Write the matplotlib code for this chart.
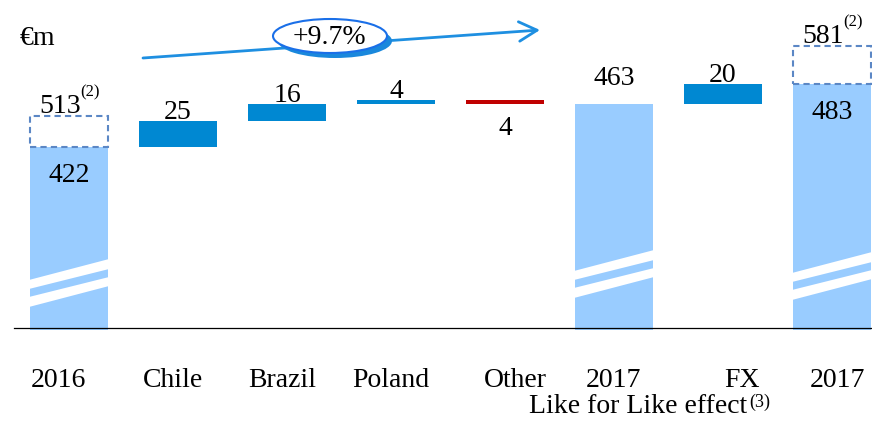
import matplotlib
matplotlib.use("Agg")
import matplotlib.pyplot as plt
from matplotlib.patches import Rectangle, Polygon, Ellipse

# data
labels = ["2016", "Chile", "Brazil", "Poland", "Other", "2017", "FX", "2017"]
kinds = ["total", "step", "step", "step", "step", "total", "step", "total"]
values = [422, 25, 16, 4, -4, 463, 20, 483]
reported_idx = [0, 7]
reported_vals = [513, 581]
growth = "+9.7%"
lfl_caption = "Like for Like effect"
unit = "€m"

# layout (image pixels)
W, H = 872, 424
X0, STEP = 69, 109          # first bar centre, distance between bars
BASE_PX, PPU = 328, 1.035   # axis line, pixels per €m
BASE_VAL = 247              # value sitting on the broken axis
BAR_W = 78 / STEP
label_dx = [-11, -5, -5, -5, 10, -1, 19, 5]
box_px = [31, 38]
break_lift = {0: 0, 5: 9, 7: 7}

LIGHT = "#99ccff"
DARK = "#0088d2"
RED = "#c00000"
DASH = "#5b87c5"
ARROW = "#1e8fe1"
FONT = "Liberation Serif"
FS = 20

plt.rcParams["font.family"] = [FONT, "DejaVu Serif"]


def vy(py):
    return BASE_VAL + (BASE_PX - py) / PPU


def fxy(px, py):
    return px / W, 1 - py / H


fig = plt.figure(figsize=(W / 100, H / 100), dpi=100)
ax = fig.add_axes([0, 0, 1, 1])
ax.set_xlim(-X0 / STEP, (W - X0) / STEP)
ax.set_ylim(vy(H), vy(0))
ax.axis("off")

# waterfall geometry
bottoms, tops, colors = [], [], []
run = 0
for k, v in zip(kinds, values):
    if k == "total":
        run = v
        bottoms.append(vy(BASE_PX + 2))
        tops.append(v)
        colors.append(LIGHT)
    else:
        lo, hi = sorted([run, run + v])
        bottoms.append(lo)
        tops.append(hi)
        colors.append(DARK if v > 0 else RED)
        run += v

xs = list(range(len(labels)))
ax.bar(xs, [t - b for t, b in zip(tops, bottoms)], bottom=bottoms, width=BAR_W,
       color=colors, linewidth=0, zorder=2)

# axis line
ax.plot([-55 / STEP, (W - X0) / STEP], [BASE_VAL, BASE_VAL], color="black", lw=0.9, zorder=3)

# break marks on the total bars
stripes = [((280, 289), (259, 269)), ((297, 307), (277, 286))]
for i, lift in break_lift.items():
    l, r = i - BAR_W / 2 - 0.01, i + BAR_W / 2 + 0.01
    for (lt, lb), (rt, rb) in stripes:
        poly = Polygon([(l, vy(lt - lift)), (r, vy(rt - lift)), (r, vy(rb - lift)), (l, vy(lb - lift))],
                       closed=True, facecolor="white", edgecolor="none", zorder=4)
        ax.add_patch(poly)

# value labels
for i, (k, v) in enumerate(zip(kinds, values)):
    if k == "total":
        if i in reported_idx:
            y = tops[i] - 35 / PPU
        else:
            y = tops[i] + 19 / PPU
    elif v > 0:
        y = tops[i] + 2 / PPU
    else:
        y = bottoms[i] - 31 / PPU
    ax.text(i, y, str(abs(v)), ha="center", va="baseline", fontsize=FS, zorder=5)

# reported (dashed) boxes
for n, (i, rv) in enumerate(zip(reported_idx, reported_vals)):
    h = box_px[n] / PPU
    ax.add_patch(Rectangle((i - BAR_W / 2, tops[i]), BAR_W, h, fill=False,
                           edgecolor=DASH, lw=1.5, linestyle=(0, (3, 2)), zorder=5))
    base = tops[i] + h + 3 / PPU
    ax.text(i + 12 / STEP, base, str(rv), ha="right", va="baseline", fontsize=FS)
    ax.text(i + 11 / STEP, base + 28 / PPU, "(2)", ha="left", va="top", fontsize=12)

# category labels
for i, lab in enumerate(labels):
    ax.text(i + label_dx[i] / STEP, vy(387), lab, ha="center", va="baseline", fontsize=FS)

cap = fig.text(*fxy(747, 413), lfl_caption, ha="right", va="baseline", fontsize=FS)
fig.text(*fxy(749, 394), "(3)", ha="left", va="top", fontsize=13)

# unit
fig.text(*fxy(20, 45), unit, ha="left", va="baseline", fontsize=FS)

# growth arrow with bubble
ax.annotate("", xy=fxy(540, 30), xycoords="figure fraction",
            xytext=fxy(143, 58), textcoords="figure fraction",
            arrowprops=dict(arrowstyle="->,head_length=0.65,head_width=0.35",
                            color=ARROW, lw=2, mutation_scale=20, shrinkA=0, shrinkB=0),
            zorder=6)
shadow = Ellipse(fxy(335, 41), 114 / W, 34 / H, transform=fig.transFigure,
                 facecolor="#1a88dc", edgecolor="none", zorder=7)
bubble = Ellipse(fxy(330, 36), 114 / W, 34 / H, transform=fig.transFigure,
                 facecolor="white", edgecolor="#1a6fe8", lw=1.5, zorder=8)
fig.add_artist(shadow)
fig.add_artist(bubble)
t = fig.text(*fxy(329, 38), growth, ha="center", va="center", fontsize=FS)
t.set_zorder(9)

fig.savefig("out.png", dpi=100)
